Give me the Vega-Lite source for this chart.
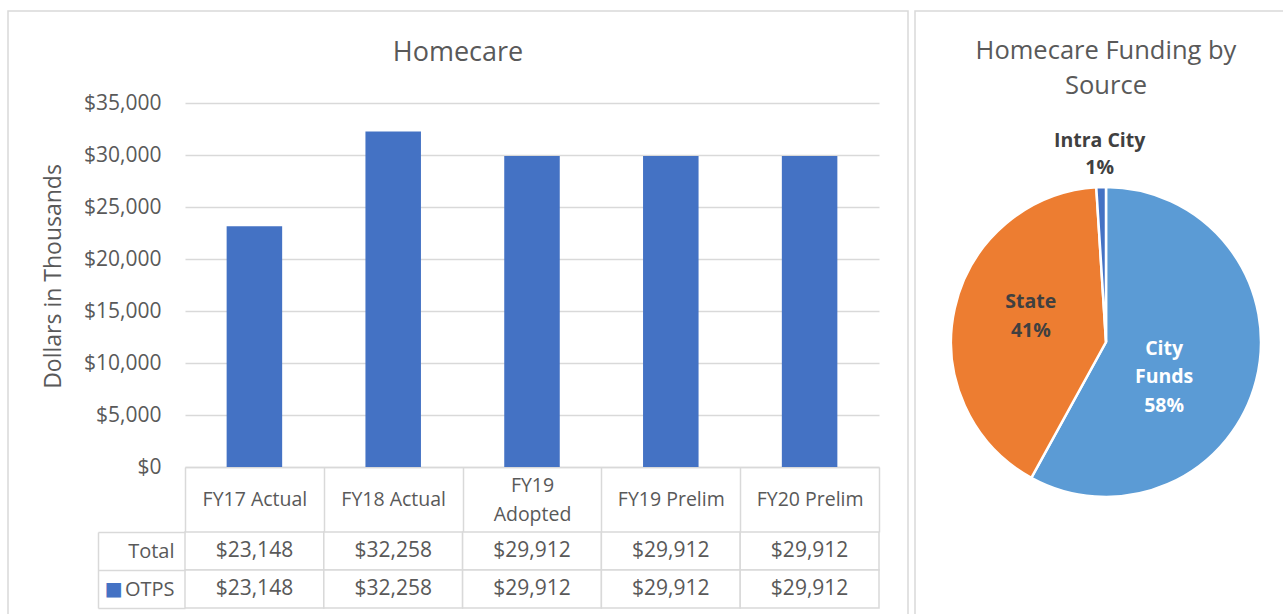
{
  "$schema": "https://vega.github.io/schema/vega-lite/v6.json",
  "padding": {"left": 7, "top": 0, "right": 0, "bottom": 0},
  "background": "white",
  "spacing": 0,
  "config": {
    "font": "Open Sans",
    "view": {"stroke": "#d9d9d9", "strokeWidth": 1.5}
  },
  "hconcat": [
    {
      "width": 900,
      "height": 662,
      "title": {"text": "Homecare", "fontSize": 27, "fontWeight": "normal", "color": "#595959", "anchor": "middle", "baseline": "alphabetic", "offset": -87},
      "data": {
        "values": [
          {"category": "FY17 Actual", "row": "Total", "value": 23148},
          {"category": "FY18 Actual", "row": "Total", "value": 32258},
          {"category": "FY19 Adopted", "row": "Total", "value": 29912},
          {"category": "FY19 Prelim", "row": "Total", "value": 29912},
          {"category": "FY20 Prelim", "row": "Total", "value": 29912},
          {"category": "FY17 Actual", "row": "OTPS", "value": 23148},
          {"category": "FY18 Actual", "row": "OTPS", "value": 32258},
          {"category": "FY19 Adopted", "row": "OTPS", "value": 29912},
          {"category": "FY19 Prelim", "row": "OTPS", "value": 29912},
          {"category": "FY20 Prelim", "row": "OTPS", "value": 29912}
        ]
      },
      "layer": [
        {
          "transform": [{"filter": "datum.row === 'OTPS'"}],
          "mark": {"type": "bar", "color": "#4472C4", "width": {"band": 0.4}},
          "encoding": {
            "x": {
              "field": "category", "type": "nominal", "sort": null,
              "scale": {"range": [177, 871], "paddingInner": 0, "paddingOuter": 0},
              "axis": {
                "orient": "bottom", "offset": -206, "title": null,
                "domain": true, "domainColor": "#d9d9d9", "domainWidth": 1.5,
                "ticks": true, "tickBand": "extent", "tickSize": 65, "tickColor": "#d9d9d9", "tickWidth": 1.5,
                "grid": false,
                "labelAngle": 0, "labelFontSize": 19.5, "labelColor": "#595959",
                "labelBaseline": "middle", "labelLineHeight": 29,
                "labelPadding": {"condition": {"test": "datum.value === 'FY19 Adopted'", "value": -47}, "value": -33},
                "labelOverlap": false, "labelLimit": 300,
                "labelExpr": "datum.value === 'FY19 Adopted' ? ['FY19', 'Adopted'] : datum.value"
              }
            },
            "y": {
              "field": "value", "type": "quantitative",
              "scale": {"domain": [0, 35000], "range": [456, 92], "nice": false, "zero": true},
              "axis": {
                "orient": "left", "offset": -177,
                "values": [0, 5000, 10000, 15000, 20000, 25000, 30000, 35000],
                "format": "$,.0f",
                "domain": false, "ticks": false, "tickSize": 0,
                "grid": true, "gridColor": "#d9d9d9", "gridWidth": 1.5,
                "labelFontSize": 21, "labelColor": "#595959", "labelPadding": 24,
                "title": "Dollars in Thousands", "titleFontSize": 23, "titleFontWeight": "normal",
                "titleColor": "#595959", "titlePadding": 18, "titleY": 265
              }
            }
          }
        },
        {
          "mark": {"type": "rect", "fill": "white", "stroke": "#d9d9d9", "strokeWidth": 1.5},
          "encoding": {
            "x": {"field": "category", "type": "nominal", "sort": null},
            "y": {
              "field": "row", "type": "nominal", "sort": ["Total", "OTPS"],
              "scale": {"range": [521, 597], "paddingInner": 0, "paddingOuter": 0},
              "axis": {
                "orient": "left", "offset": -90, "title": null,
                "domain": true, "domainColor": "#d9d9d9", "domainWidth": 1.5,
                "ticks": true, "tickBand": "extent", "tickSize": -87, "tickColor": "#d9d9d9", "tickWidth": 1.5,
                "grid": false,
                "labelFontSize": 20, "labelColor": "#595959", "labelPadding": 11
              }
            }
          }
        },
        {
          "mark": {"type": "text", "fontSize": 21, "color": "#595959"},
          "encoding": {
            "x": {"field": "category", "type": "nominal", "sort": null},
            "y": {
              "field": "row", "type": "nominal", "sort": ["Total", "OTPS"],
              "scale": {"range": [521, 597], "paddingInner": 0, "paddingOuter": 0},
              "axis": {
                "orient": "left", "offset": -90, "title": null,
                "domain": false, "ticks": false, "tickSize": 0, "grid": false,
                "labelExpr": "datum.value === 'OTPS' ? '■' : ''",
                "labelColor": "#4472C4", "labelFontSize": 30, "labelAlign": "left", "labelPadding": -6
              }
            },
            "text": {"field": "value", "type": "quantitative", "format": "$,.0f"}
          }
        }
      ],
      "resolve": {"scale": {"y": "independent"}, "axis": {"y": "independent"}}
    },
    {
      "width": 382,
      "height": 662,
      "title": {"text": ["Homecare Funding by", "Source"], "fontSize": 25.5, "fontWeight": "normal", "color": "#595959", "anchor": "middle", "baseline": "alphabetic", "lineHeight": 35, "offset": -108},
      "data": {
        "values": [
          {"source": "City Funds", "pct": 58, "label": "City\nFunds\n58%"},
          {"source": "State", "pct": 41, "label": "State\n41%"},
          {"source": "Intra City", "pct": 1, "label": "Intra City\n1%"}
        ]
      },
      "encoding": {
        "x": {"datum": 0.5, "type": "quantitative", "scale": {"domain": [0, 1]}, "axis": null},
        "y": {"datum": 0.5, "type": "quantitative", "scale": {"domain": [0, 1]}, "axis": null},
        "theta": {"field": "pct", "type": "quantitative", "stack": true},
        "order": {"field": "pct", "type": "quantitative", "sort": "descending"}
      },
      "layer": [
        {
          "mark": {"type": "arc", "outerRadius": 155, "stroke": "white", "strokeWidth": 2.5},
          "encoding": {
            "color": {
              "field": "source", "type": "nominal",
              "scale": {"domain": ["City Funds", "State", "Intra City"], "range": ["#5B9BD5", "#ED7D31", "#4472C4"]},
              "legend": null
            }
          }
        },
        {
          "mark": {"type": "text", "radius": 60, "dy": -8, "fontSize": 19.5, "fontWeight": "bold", "lineBreak": "\n", "lineHeight": 28.5, "color": "white"},
          "encoding": {"text": {"condition": {"test": "datum.source === 'City Funds'", "field": "label"}, "value": ""}}
        },
        {
          "mark": {"type": "text", "radius": 77, "dy": -23, "fontSize": 19.5, "fontWeight": "bold", "lineBreak": "\n", "lineHeight": 28.5, "color": "#404040"},
          "encoding": {"text": {"condition": {"test": "datum.source === 'State'", "field": "label"}, "value": ""}}
        },
        {
          "mark": {"type": "text", "radius": 201, "fontSize": 19.5, "fontWeight": "bold", "lineBreak": "\n", "lineHeight": 27, "color": "#404040"},
          "encoding": {"text": {"condition": {"test": "datum.source === 'Intra City'", "field": "label"}, "value": ""}}
        }
      ]
    }
  ]
}
